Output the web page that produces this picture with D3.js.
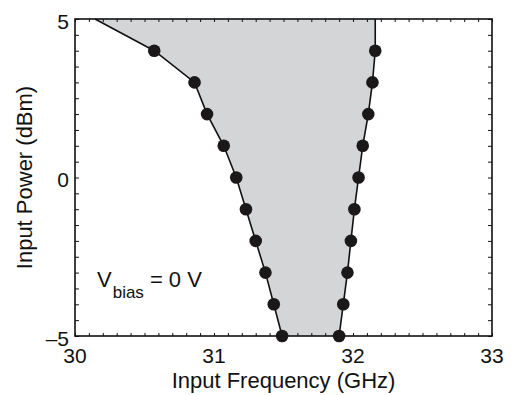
<!DOCTYPE html>
<html>
<head>
<meta charset="utf-8">
<script src="https://cdn.jsdelivr.net/npm/d3@7"></script>
<style>
  body { margin: 0; background: #fff; }
  text { font-family: "Liberation Sans", Arial, sans-serif; fill: #111; }
</style>
</head>
<body>
<div id="vis"></div>
<script>
// data
var powers = [4, 3, 2, 1, 0, -1, -2, -3, -4, -5];
var leftFreq = [30.57, 30.86, 30.95, 31.07, 31.16, 31.23, 31.30, 31.37, 31.43, 31.49];
var rightFreq = [32.16, 32.14, 32.11, 32.07, 32.04, 32.01, 31.985, 31.96, 31.93, 31.90];
var leftTop = [30.144, 5];   // where the left edge leaves the top of the box
var rightTop = [32.16, 5];
var xTicks = [30, 31, 32, 33];
var yTicks = [-5, 0, 5];

var width = 515, height = 395;
var margin = { left: 75, right: 23, top: 19, bottom: 59 };

var svg = d3.select("#vis").append("svg")
  .attr("width", width).attr("height", height);

var x = d3.scaleLinear().domain([30, 33]).range([margin.left, width - margin.right]);
var y = d3.scaleLinear().domain([-5, 5]).range([height - margin.bottom, margin.top]);

var leftPts = powers.map(function(p, i) { return [leftFreq[i], p]; });
var rightPts = powers.map(function(p, i) { return [rightFreq[i], p]; });

// shaded region
var poly = [leftTop].concat(leftPts, rightPts.slice().reverse(), [rightTop]);
var line = d3.line().x(function(d) { return x(d[0]); }).y(function(d) { return y(d[1]); });

svg.append("path")
  .attr("d", line(poly) + "Z")
  .attr("fill", "#d4d5d7");

// boundary lines
svg.append("path")
  .attr("d", line([leftTop].concat(leftPts)))
  .attr("fill", "none").attr("stroke", "#111").attr("stroke-width", 1.6);
svg.append("path")
  .attr("d", line([rightTop].concat(rightPts)))
  .attr("fill", "none").attr("stroke", "#111").attr("stroke-width", 1.6);

// axes, ticks pointing inward on all four sides
var x0 = x.range()[0], x1 = x.range()[1], y0 = y.range()[0], y1 = y.range()[1];

var xMinor = d3.range(30, 33.001, 0.1);
var yMinor = d3.range(-5, 5.001, 0.5);

svg.append("g").attr("transform", "translate(0," + y0 + ")")
  .call(d3.axisTop(x).tickValues(xMinor).tickSize(3).tickFormat(""));
svg.append("g").attr("transform", "translate(0," + y1 + ")")
  .call(d3.axisBottom(x).tickValues(xMinor).tickSize(3).tickFormat(""));
svg.append("g").attr("transform", "translate(" + x0 + ",0)")
  .call(d3.axisRight(y).tickValues(yMinor).tickSize(4).tickFormat(""));
svg.append("g").attr("transform", "translate(" + x1 + ",0)")
  .call(d3.axisLeft(y).tickValues(yMinor).tickSize(4).tickFormat(""));

svg.selectAll(".domain").remove();
svg.selectAll(".tick line").attr("stroke", "#111").attr("stroke-width", 1);

svg.append("rect")
  .attr("x", x0).attr("y", y1)
  .attr("width", x1 - x0).attr("height", y0 - y1)
  .attr("fill", "none").attr("stroke", "#111").attr("stroke-width", 1.6);

// tick labels
svg.selectAll(".xlab").data(xTicks).enter().append("text")
  .attr("x", function(d) { return x(d); })
  .attr("y", y0 + 27)
  .attr("text-anchor", "middle")
  .style("font-size", "21px")
  .text(function(d) { return d; });

svg.selectAll(".ylab").data(yTicks).enter().append("text")
  .attr("x", x0 - 6)
  .attr("y", function(d) { return y(d) + 2; })
  .attr("dy", "0.36em")
  .attr("text-anchor", "end")
  .style("font-size", "21px")
  .text(function(d) { return d < 0 ? "\u2013" + Math.abs(d) : d; });

// markers
svg.selectAll("circle")
  .data(leftPts.concat(rightPts))
  .enter().append("circle")
  .attr("cx", function(d) { return x(d[0]); })
  .attr("cy", function(d) { return y(d[1]); })
  .attr("r", 6.3)
  .attr("fill", "#1a1818");

// axis titles
svg.append("text")
  .attr("x", (x0 + x1) / 2).attr("y", 388)
  .attr("text-anchor", "middle")
  .style("font-size", "22px")
  .text("Input Frequency (GHz)");

svg.append("text")
  .attr("transform", "translate(32," + ((y0 + y1) / 2) + ") rotate(-90)")
  .attr("text-anchor", "middle")
  .style("font-size", "22px")
  .text("Input Power (dBm)");

// annotation
var ann = svg.append("text").attr("x", 97).attr("y", 287).style("font-size", "22px");
ann.append("tspan").text("V");
ann.append("tspan").attr("dy", 11).attr("dx", 1).style("font-size", "17px").text("bias");
ann.append("tspan").attr("dy", -11).attr("dx", 6).text("= 0 V");
</script>
</body>
</html>
